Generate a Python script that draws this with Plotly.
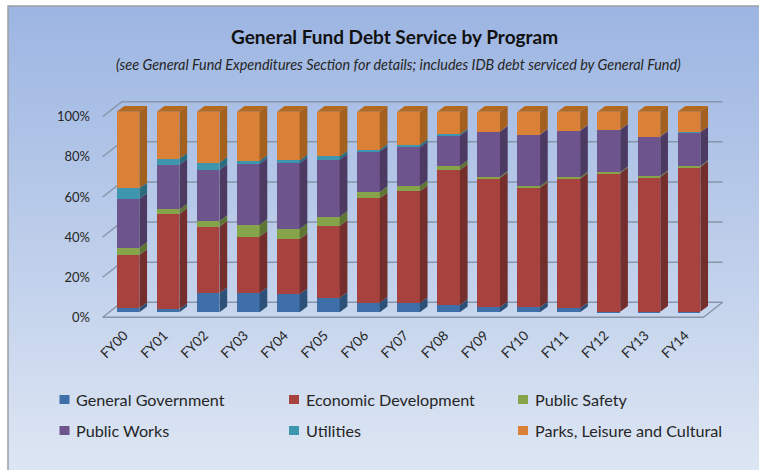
import plotly.graph_objects as go

# Fiscal years and each program's share of general fund debt service (percent)
years = ["FY00", "FY01", "FY02", "FY03", "FY04", "FY05", "FY06", "FY07",
         "FY08", "FY09", "FY10", "FY11", "FY12", "FY13", "FY14"]
general_government = [2.0, 1.5, 9.5, 9.5, 9.0, 7.1, 4.8, 4.5, 3.7, 2.5, 2.5, 2.0, 0.3, 0.3, 0.3]
economic_development = [26.6, 47.5, 33.2, 28.2, 27.4, 35.9, 52.0, 55.8, 67.2, 64.4, 59.6, 64.6, 69.0, 67.1, 72.1]
public_safety = [3.6, 2.3, 2.8, 6.0, 5.1, 4.7, 3.2, 2.7, 2.0, 0.7, 0.7, 0.7, 0.5, 0.5, 0.5]
public_works = [24.3, 22.3, 25.4, 30.2, 32.8, 28.4, 20.1, 19.2, 15.1, 22.4, 25.7, 23.2, 21.2, 19.6, 16.8]
utilities = [5.3, 3.0, 3.7, 1.5, 1.4, 1.6, 0.9, 1.2, 0.7, 0.1, 0.1, 0.1, 0.1, 0.1, 0.1]
parks = [38.2, 23.4, 25.4, 24.6, 24.3, 22.3, 19.0, 16.6, 11.3, 9.9, 11.4, 9.4, 8.9, 12.4, 10.2]
tick_percent = [0, 20, 40, 60, 80, 100]

series = [
    ("General Government", general_government, "#3f6fa8", "#2d5078"),
    ("Economic Development", economic_development, "#a8423f", "#742e2c"),
    ("Public Safety", public_safety, "#86a44a", "#5f7534"),
    ("Public Works", public_works, "#6e548d", "#4c3a62"),
    ("Utilities", utilities, "#3d96ae", "#2a6b7d"),
    ("Parks, Leisure and Cultural", parks, "#da8137", "#a3601f"),
]

WIDTH, HEIGHT = 759, 470
X_UNIT, X_ZERO = 40.07, 128.0      # pixels per year, pixel of the first year
Y_UNIT, Y_FLOOR = 2.006, 317.3     # pixels per percent, pixel of 0% on the floor front


def col(p):
    return (p - X_ZERO) / X_UNIT


def level(p):
    return (Y_FLOOR - p) / Y_UNIT


# Oblique projection offsets, in axis units
BAR_WIDTH = 22.7 / X_UNIT
BAR_DX, BAR_DY = 7.7 / X_UNIT, 5.7 / Y_UNIT
BAR_LIFT = 5.0 / Y_UNIT
WALL_DX, WALL_DY = 19.2 / X_UNIT, 15.0 / Y_UNIT
FLOOR_LEFT, FLOOR_RIGHT = col(102.7), col(703.4)

fig = go.Figure()

# Panel behind the chart
panel_x = [col(8), col(WIDTH), col(WIDTH), col(8), col(8)]
panel_y = [level(6), level(6), level(HEIGHT), level(HEIGHT), level(6)]
fig.add_trace(go.Scatter(
    x=panel_x, y=panel_y, mode="lines", fill="toself",
    line=dict(width=0, color="rgba(0,0,0,0)"),
    fillgradient=dict(type="vertical", colorscale=[[0, "#dde6f3"], [0.5, "#bccdea"], [1, "#9cb5e2"]]),
    hoverinfo="skip", showlegend=False,
))
fig.add_trace(go.Scatter(
    x=[col(8), col(8), col(WIDTH)], y=[level(HEIGHT), level(6), level(6)],
    mode="lines", line=dict(color="#9a9ea6", width=1.5),
    hoverinfo="skip", showlegend=False,
))

# Back wall gridlines and their returns along the side wall
grid_x, grid_y = [], []
for t in tick_percent:
    grid_x += [FLOOR_LEFT, FLOOR_LEFT + WALL_DX, FLOOR_RIGHT + WALL_DX, None]
    grid_y += [t, t + WALL_DY, t + WALL_DY, None]
grid_x += [FLOOR_LEFT, FLOOR_RIGHT, FLOOR_RIGHT + WALL_DX]
grid_y += [0, 0, WALL_DY]
fig.add_trace(go.Scatter(
    x=grid_x, y=grid_y, mode="lines", line=dict(color="#8795a8", width=1.4),
    hoverinfo="skip", showlegend=False,
))

# Side faces, top faces and front faces of the stacked columns
running = [0.0] * len(years)
for name, values, colour, shade in series:
    side_x, side_y = [], []
    for i, v in enumerate(values):
        lo, hi = running[i], running[i] + v
        edge = i + BAR_WIDTH / 2
        side_x += [edge, edge + BAR_DX, edge + BAR_DX, edge, edge, None]
        side_y += [lo, lo + BAR_DY, hi + BAR_DY, hi, lo, None]
    fig.add_trace(go.Scatter(
        x=side_x, y=side_y, yaxis="y2", mode="lines", fill="toself",
        fillcolor=shade, line=dict(width=0, color=shade),
        hoverinfo="skip", showlegend=False,
    ))
    running = [r + v for r, v in zip(running, values)]

top_x, top_y = [], []
for i, total in enumerate(running):
    left, right = i - BAR_WIDTH / 2, i + BAR_WIDTH / 2
    top_x += [left, right, right + BAR_DX, left + BAR_DX, left, None]
    top_y += [total, total, total + BAR_DY, total + BAR_DY, total, None]
fig.add_trace(go.Scatter(
    x=top_x, y=top_y, yaxis="y2", mode="lines", fill="toself",
    fillcolor="#b5691f", line=dict(width=0, color="#b5691f"),
    hoverinfo="skip", showlegend=False,
))

for name, values, colour, shade in series:
    fig.add_trace(go.Bar(
        x=list(range(len(years))), y=values, name=name, yaxis="y2",
        width=BAR_WIDTH, marker=dict(color=colour, line=dict(width=0)),
        showlegend=False,
    ))

# Legend laid out in two rows of three
FONT = "Lato, Carlito, sans-serif"
legend_cols = [(59.5, 74), (289, 303.5), (518, 533)]
legend_rows = [399.5, 430.5]
shapes, annotations = [], []
for k, (name, values, colour, shade) in enumerate(series):
    swatch, text_x = legend_cols[k % 3]
    row = legend_rows[k // 3]
    shapes.append(dict(
        type="rect", xref="paper", yref="paper",
        x0=swatch / WIDTH, x1=(swatch + 10) / WIDTH,
        y0=1 - (row + 4.5) / HEIGHT, y1=1 - (row - 4.5) / HEIGHT,
        fillcolor=colour, line=dict(width=0),
    ))
    annotations.append(dict(
        text=name, xref="paper", yref="paper", showarrow=False,
        x=text_x / WIDTH, y=1 - row / HEIGHT, xanchor="left", yanchor="middle",
        font=dict(family=FONT, size=16.2, color="#262626"),
    ))

annotations.append(dict(
    text="<b>General Fund Debt Service by Program</b>", xref="paper", yref="paper",
    showarrow=False, x=394 / WIDTH, y=1 - 36 / HEIGHT, xanchor="center", yanchor="middle",
    font=dict(family=FONT, size=19, color="#111111"),
))
annotations.append(dict(
    text="<i>(see General Fund Expenditures Section for details; includes IDB debt serviced by General Fund)</i>",
    xref="paper", yref="paper", showarrow=False,
    x=398 / WIDTH, y=1 - 64.5 / HEIGHT, xanchor="center", yanchor="middle",
    font=dict(family=FONT, size=14.4, color="#262626"),
))

fig.update_layout(
    width=WIDTH, height=HEIGHT, margin=dict(l=0, r=0, t=0, b=0),
    paper_bgcolor="white", plot_bgcolor="rgba(0,0,0,0)",
    barmode="stack", bargap=0, showlegend=False,
    shapes=shapes, annotations=annotations,
    xaxis=dict(
        domain=[0, 1], range=[col(0), col(WIDTH)], showgrid=False, zeroline=False,
        showline=False, ticks="", tickmode="array",
        tickvals=list(range(len(years))), ticktext=years, tickangle=-45,
        tickfont=dict(family=FONT, size=13.5, color="#262626"),
        ticklabelshift=-4, ticklabelstandoff=2,
        anchor="free", position=1 - 322 / HEIGHT,
    ),
    yaxis=dict(
        domain=[0, 1], range=[level(HEIGHT), level(0)], showgrid=False, zeroline=False,
        showline=False, ticks="", tickmode="array", tickvals=tick_percent,
        ticktext=[f"{t}%" for t in tick_percent],
        tickfont=dict(family=FONT, size=13, color="#262626"),
        anchor="free", position=90 / WIDTH,
    ),
    yaxis2=dict(
        overlaying="y", visible=False,
        range=[level(HEIGHT) - BAR_LIFT, level(0) - BAR_LIFT],
    ),
)

fig.write_html("out.html")
